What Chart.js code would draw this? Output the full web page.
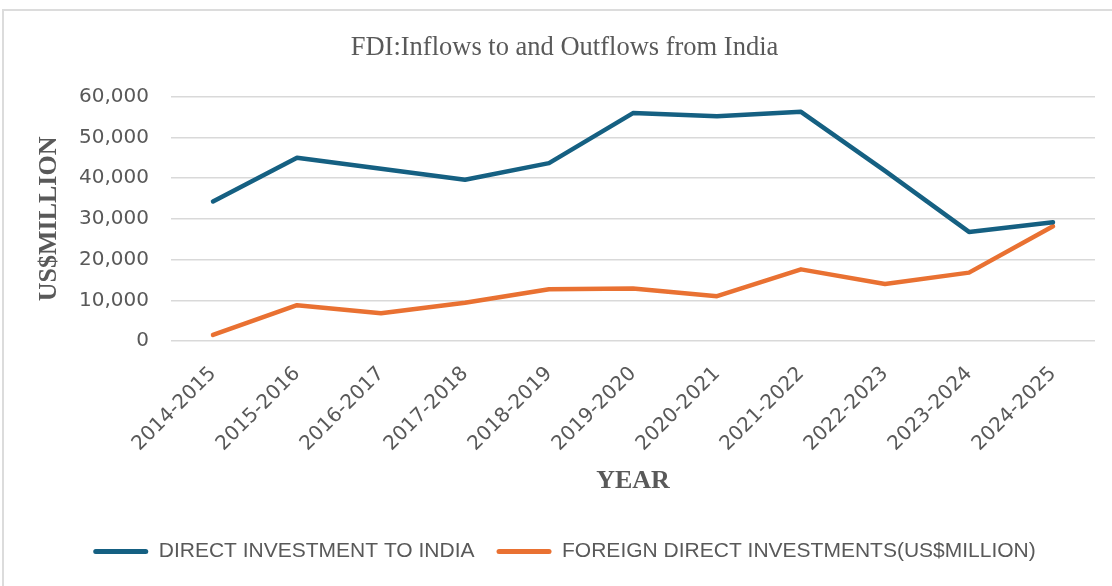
<!DOCTYPE html>
<html>
<head>
<meta charset="utf-8">
<script src="https://cdn.jsdelivr.net/npm/chart.js@4"></script>
<style>
  html, body { margin: 0; padding: 0; background: #fff; }
  #frame {
    position: absolute; left: 2px; top: 9px; width: 1120px; height: 600px;
    border-top: 2px solid #dcdcdc; border-left: 2px solid #dcdcdc;
  }
  #wrap { position: absolute; left: 0; top: 0; width: 1112px; height: 586px; }
</style>
</head>
<body>
<div id="frame"></div>
<div id="wrap"><canvas id="graficoFDI" width="1112" height="586"></canvas></div>
<script>
const anos = ['2014-2015', '2015-2016', '2016-2017', '2017-2018', '2018-2019', '2019-2020',
              '2020-2021', '2021-2022', '2022-2023', '2023-2024', '2024-2025'];
const entradas = [34300, 45000, 42300, 39600, 43700, 56000, 55200, 56300, 41800, 26800, 29200];
const saidas = [1500, 8800, 6800, 9400, 12700, 12900, 11000, 17600, 14000, 16800, 28200];
const ticksY = [0, 10000, 20000, 30000, 40000, 50000, 60000];

const serif = '"Liberation Serif", "Times New Roman", serif';
const sans = '"DejaVu Sans", sans-serif';
const cinza = '#595959';

document.addEventListener('DOMContentLoaded', () => {
    const ctx = document.getElementById('graficoFDI');

    new Chart(ctx, {
        type: 'line',
        data: {
            labels: anos,
            datasets: [{
                label: 'DIRECT INVESTMENT TO INDIA',
                data: entradas,
                borderColor: '#156082',
                backgroundColor: '#156082',
                borderWidth: 4.5,
                pointRadius: 0,
                borderCapStyle: 'round',
                borderJoinStyle: 'round',
                tension: 0
            }, {
                label: 'FOREIGN DIRECT INVESTMENTS(US$MILLION)',
                data: saidas,
                borderColor: '#E97132',
                backgroundColor: '#E97132',
                borderWidth: 4.5,
                pointRadius: 0,
                borderCapStyle: 'round',
                borderJoinStyle: 'round',
                tension: 0
            }]
        },
        options: {
            responsive: false,
            animation: false,
            layout: { padding: { left: 34, right: 17, top: 0, bottom: 14 } },
            plugins: {
                title: {
                    display: true,
                    text: 'FDI:Inflows to and Outflows from India',
                    color: cinza,
                    font: { family: serif, size: 26.5, weight: 'normal' },
                    padding: { top: 32, bottom: 33 }
                },
                legend: {
                    position: 'bottom',
                    labels: {
                        boxWidth: 55,
                        boxHeight: 5,
                        padding: 22,
                        color: cinza,
                        font: { family: '"Liberation Sans", Arial, sans-serif', size: 21 },
                        generateLabels: (chart) => Chart.defaults.plugins.legend.labels.generateLabels(chart)
                            .map(l => Object.assign(l, { lineWidth: 0, borderRadius: 2.5 }))
                    }
                },
                tooltip: { enabled: false }
            },
            scales: {
                x: {
                    offset: true,
                    // tamanhos fixos para casar com a área do gráfico original
                    afterFit: (scale) => { scale.paddingLeft = 0; scale.paddingRight = 0; scale.height = 178; },
                    grid: { display: false },
                    border: { display: false },
                    ticks: {
                        color: cinza,
                        font: { family: sans, size: 20 },
                        maxRotation: 45,
                        minRotation: 45,
                        padding: 13
                    },
                    title: {
                        display: true,
                        text: 'YEAR',
                        color: cinza,
                        font: { family: serif, size: 26, weight: 'bold' },
                        padding: { top: 2, bottom: 22 }
                    }
                },
                y: {
                    min: ticksY[0],
                    max: ticksY[ticksY.length - 1],
                    afterBuildTicks: (scale) => { scale.ticks = ticksY.map(v => ({ value: v })); },
                    afterFit: (scale) => { scale.width = 137; },
                    grid: { color: '#d9d9d9', lineWidth: 1.5, drawTicks: false },
                    border: { display: false },
                    ticks: {
                        color: cinza,
                        font: { family: sans, size: 20 },
                        padding: 22,
                        callback: (v) => v.toLocaleString('en-US')
                    },
                    title: {
                        display: true,
                        text: 'US$MILLION',
                        color: cinza,
                        font: { family: serif, size: 26, weight: 'bold' },
                        padding: { top: 0, bottom: 14 }
                    }
                }
            }
        }
    });
});
</script>
</body>
</html>
